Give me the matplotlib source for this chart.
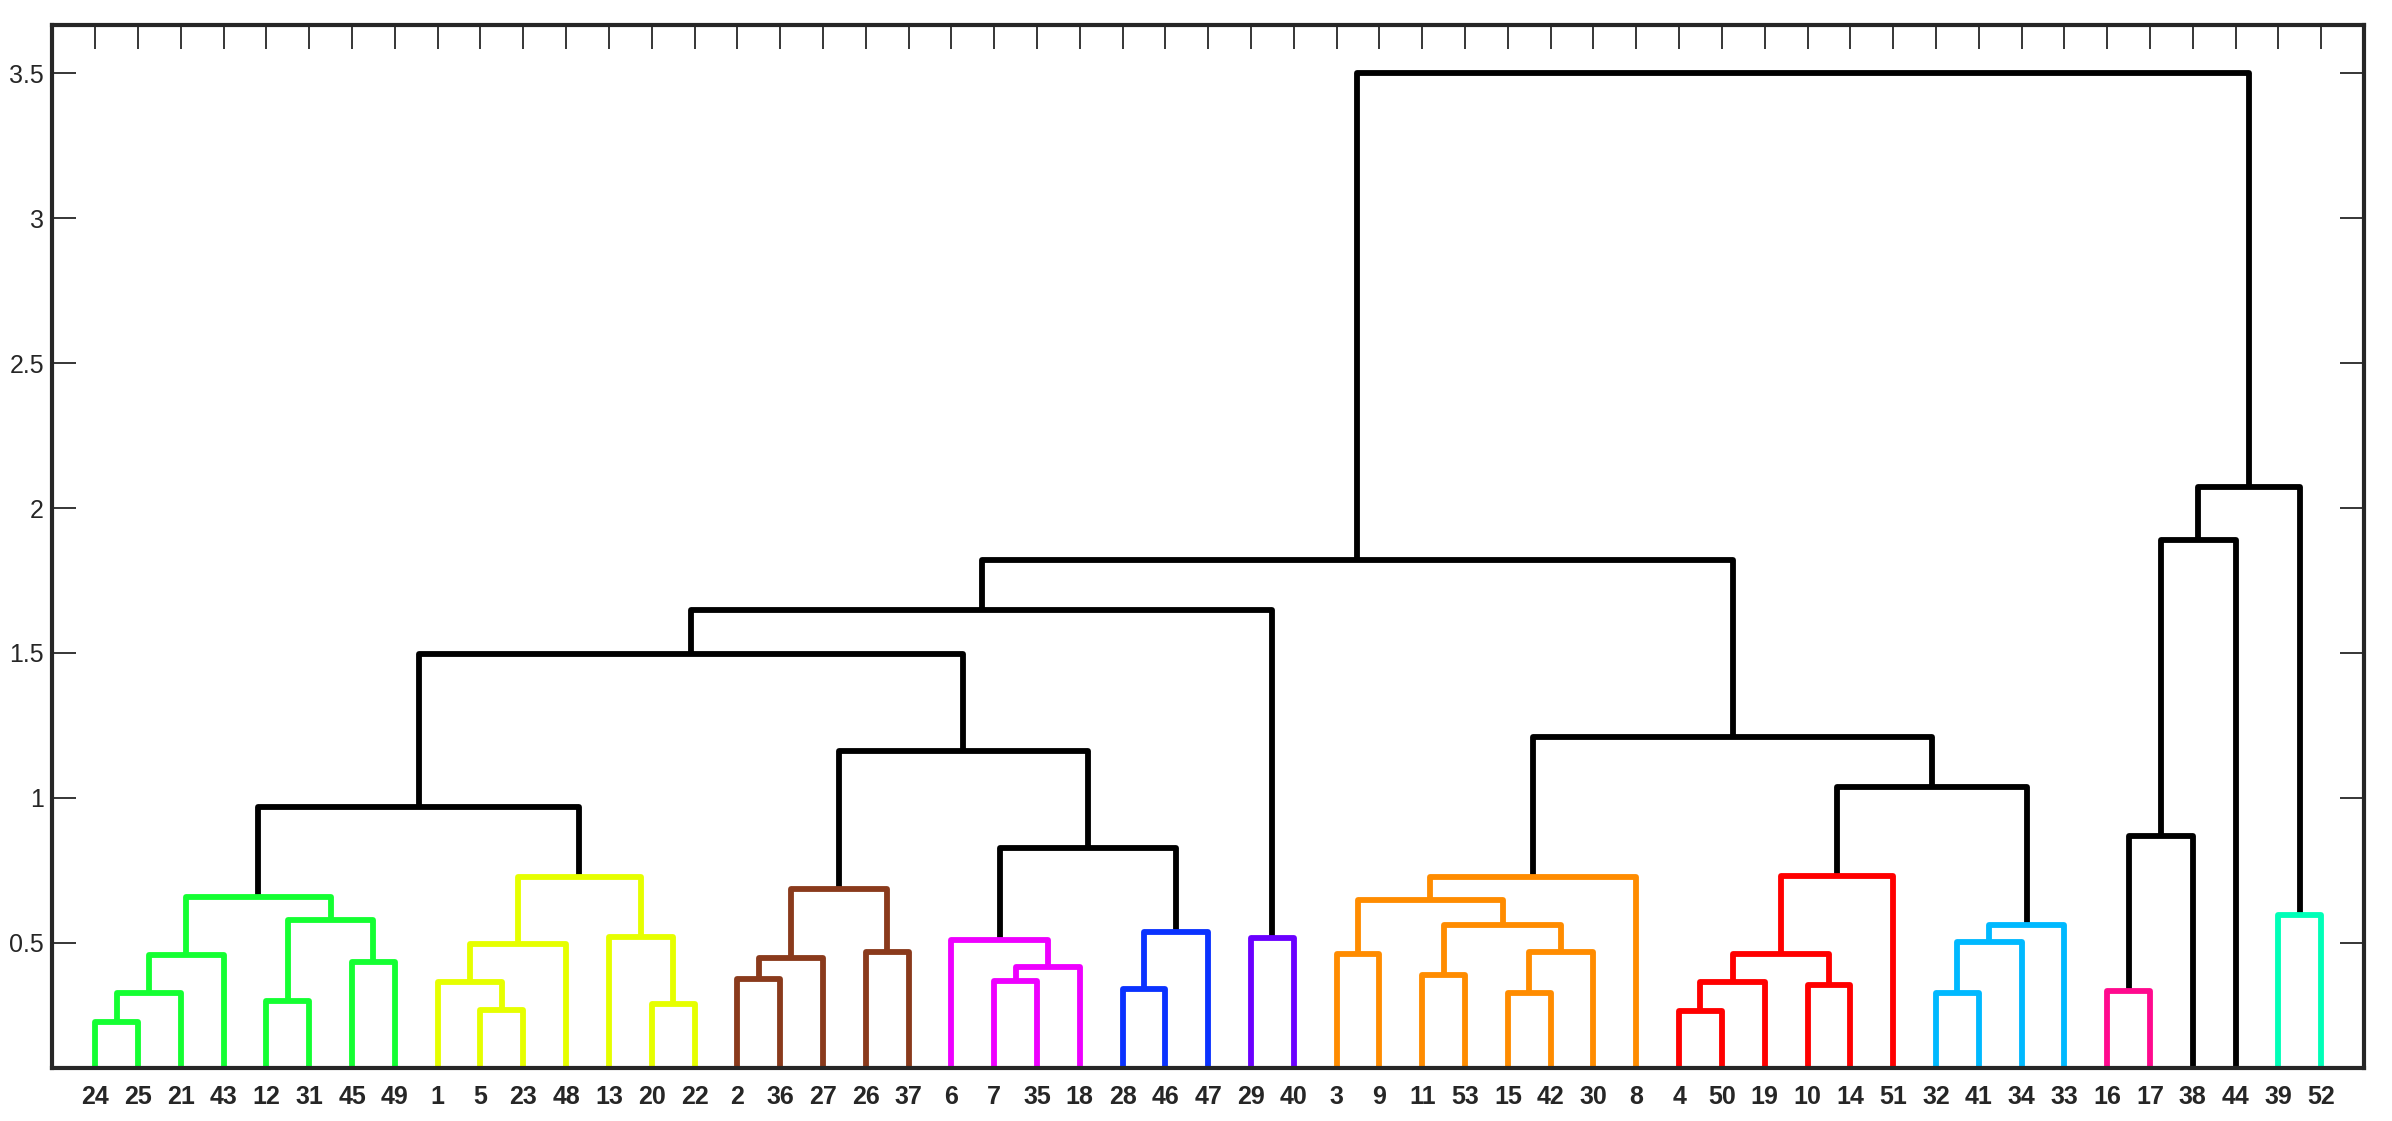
import matplotlib
matplotlib.use("Agg")
import matplotlib.pyplot as plt

plt.rcParams['font.family'] = ['Liberation Sans', 'DejaVu Sans']

# leaf order along the x axis
leaf_order = ["24", "25", "21", "43", "12", "31", "45", "49", "1", "5", "23", "48",
              "13", "20", "22", "2", "36", "27", "26", "37", "6", "7", "35", "18",
              "28", "46", "47", "29", "40", "3", "9", "11", "53", "15", "42", "30",
              "8", "4", "50", "19", "10", "14", "51", "32", "41", "34", "33", "16",
              "17", "38", "44", "39", "52"]

# links: (node name, left child, right child, height)
green_links = [("green1", "24", "25", 0.226), ("green2", "green1", "21", 0.326),
               ("green3", "green2", "43", 0.458), ("green4", "12", "31", 0.300),
               ("green5", "45", "49", 0.432), ("green6", "green4", "green5", 0.579),
               ("green7", "green3", "green6", 0.658)]
yellow_links = [("yellow1", "5", "23", 0.268), ("yellow2", "1", "yellow1", 0.363),
                ("yellow3", "yellow2", "48", 0.495), ("yellow4", "20", "22", 0.290),
                ("yellow5", "13", "yellow4", 0.521), ("yellow6", "yellow3", "yellow5", 0.726)]
brown_links = [("brown1", "2", "36", 0.374), ("brown2", "brown1", "27", 0.447),
               ("brown3", "26", "37", 0.468), ("brown4", "brown2", "brown3", 0.684)]
magenta_links = [("magenta1", "7", "35", 0.368), ("magenta2", "magenta1", "18", 0.416),
                 ("magenta3", "6", "magenta2", 0.511)]
blue_links = [("blue1", "28", "46", 0.342), ("blue2", "blue1", "47", 0.537)]
purple_links = [("purple1", "29", "40", 0.516)]
orange_links = [("orange1", "3", "9", 0.463), ("orange2", "11", "53", 0.389),
                ("orange3", "15", "42", 0.326), ("orange4", "orange3", "30", 0.468),
                ("orange5", "orange2", "orange4", 0.563), ("orange6", "orange1", "orange5", 0.647),
                ("orange7", "orange6", "8", 0.726)]
red_links = [("red1", "4", "50", 0.263), ("red2", "red1", "19", 0.363),
             ("red3", "10", "14", 0.353), ("red4", "red2", "red3", 0.463),
             ("red5", "red4", "51", 0.730)]
cyan_links = [("cyan1", "32", "41", 0.326), ("cyan2", "cyan1", "34", 0.503),
              ("cyan3", "cyan2", "33", 0.563)]
pink_links = [("pink1", "16", "17", 0.332)]
teal_links = [("teal1", "39", "52", 0.595)]
black_links = [("black1", "green7", "yellow6", 0.968), ("black2", "magenta3", "blue2", 0.826),
               ("black3", "brown4", "black2", 1.163), ("black4", "black1", "black3", 1.495),
               ("black5", "black4", "purple1", 1.647), ("black6", "red5", "cyan3", 1.037),
               ("black7", "orange7", "black6", 1.210), ("black8", "black5", "black7", 1.821),
               ("black9", "pink1", "38", 0.868), ("black10", "black9", "44", 1.889),
               ("black11", "black10", "teal1", 2.074), ("black12", "black8", "black11", 3.500)]

yticks = [0.5, 1, 1.5, 2, 2.5, 3, 3.5]
ytick_labels = ["0.5", "1", "1.5", "2", "2.5", "3", "3.5"]

colors = {"green": "#14ff32", "yellow": "#e6ff00", "brown": "#8a3a1c",
          "magenta": "#ee00ff", "blue": "#0a32ff", "purple": "#6a00ff",
          "orange": "#ff8c00", "red": "#ff0000", "cyan": "#00b9ff",
          "pink": "#ff0a8e", "teal": "#00ffb8", "black": "#000000"}

groups = [green_links, yellow_links, brown_links, magenta_links, blue_links,
          purple_links, orange_links, red_links, cyan_links, pink_links,
          teal_links, black_links]

fig = plt.figure(figsize=(23.92, 11.21), dpi=100)
ax = fig.add_axes([0.0219, 0.0473, 0.9664, 0.9304])

# positions of leaves and nodes
xpos = {lab: i + 1 for i, lab in enumerate(leaf_order)}
ypos = {lab: 0.0 for lab in leaf_order}
all_links = [l for g in groups for l in g]
all_links.sort(key=lambda l: l[3])
for name, a, b, h in all_links:
    xpos[name] = (xpos[a] + xpos[b]) / 2
    ypos[name] = h

for name, a, b, h in all_links:
    grp = name.rstrip("0123456789")
    ax.plot([xpos[a], xpos[a], xpos[b], xpos[b]], [ypos[a], h, h, ypos[b]],
            color=colors[grp], lw=4.2, solid_joinstyle='round', solid_capstyle='butt',
            zorder=2 if grp == "black" else 3)

ax.set_xlim(0, 54)
ax.set_ylim(0.068, 3.667)
ax.set_xticks(range(1, len(leaf_order) + 1))
ax.set_xticklabels(leaf_order, fontsize=18, fontweight='bold', color='#262626')
ax.set_yticks(yticks)
ax.set_yticklabels(ytick_labels, fontsize=18, color='#262626')
ax.tick_params(axis='both', direction='in', top=True, right=True, length=17,
               width=1.3, color='#262626')
ax.tick_params(axis='x', pad=12)
ax.tick_params(axis='y', pad=6)
for s in ax.spines.values():
    s.set_linewidth(3)
    s.set_color('#262626')
    s.set_zorder(5)

fig.savefig("out.png", dpi=100)
